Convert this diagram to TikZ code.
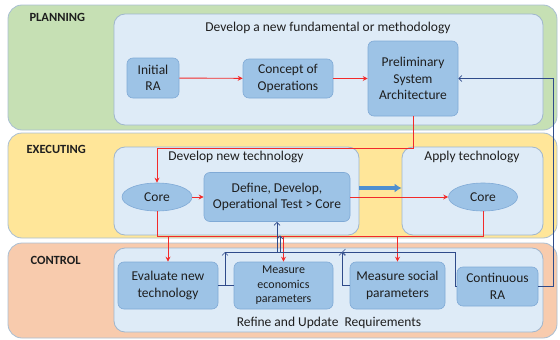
\documentclass[tikz,border=0pt]{standalone}
\usepackage{fontspec}
\setmainfont{Carlito}
\usepackage{tikz}
\usetikzlibrary{shapes.geometric,arrows.meta}

\definecolor{bgreen}{HTML}{C6E0B4}
\definecolor{byellow}{HTML}{FFE699}
\definecolor{borange}{HTML}{F8CBAD}
\definecolor{bline}{HTML}{A9BFD3}
\definecolor{pfill}{HTML}{DEEBF7}
\definecolor{pline}{HTML}{9FB6CE}
\definecolor{bfill}{HTML}{9DC3E6}
\definecolor{bline2}{HTML}{80AAD6}
\definecolor{lred}{HTML}{F22A2A}
\definecolor{navy}{HTML}{2F4B8A}
\definecolor{thk}{HTML}{4F8FCF}
\definecolor{txt}{HTML}{1E1E1E}

\begin{document}
\begin{tikzpicture}[x=1pt,y=-1pt,
	band/.style={draw=bline,line width=0.8pt,rounded corners=14pt},
	panel/.style={draw=pline,fill=pfill,line width=0.8pt,rounded corners=11pt},
	box/.style={draw=bline2,fill=bfill,line width=0.6pt,rounded corners=6pt,align=center,inner sep=1pt,text=txt,font=\fontsize{13.5}{16.5}\selectfont},
	corebox/.style={ellipse,draw=bline2,fill=bfill,line width=0.6pt,inner sep=0pt,text=txt,font=\fontsize{13.5}{16.5}\selectfont},
	head/.style={anchor=west,text=txt,font=\fontsize{12.5}{15}\selectfont\bfseries},
	title/.style={text=txt,font=\fontsize{13.5}{16.5}\selectfont},
	redar/.style={-{Stealth[length=5pt,width=5pt]},draw=lred,line width=0.9pt},
	redln/.style={draw=lred,line width=0.9pt},
	bluar/.style={-{Straight Barb[length=3pt,width=6pt]},draw=navy,line width=0.7pt},
	bluln/.style={draw=navy,line width=0.7pt}]
	\useasboundingbox (0,0) rectangle (560,340);

	% phases
	\filldraw[band,fill=bgreen] (8,5) rectangle (557,130);
	\filldraw[band,fill=byellow] (8,133) rectangle (557,238);
	\filldraw[band,fill=borange] (8,243) rectangle (557,338);
	\node[head] (lplan) at (26,17) {PLANNING};
	\node[head] (lexec) at (23,149) {EXECUTING};
	\node[head] (lctrl) at (27,260) {CONTROL};

	% panels
	\node[panel,minimum width=429pt,minimum height=111pt] (planPanel) at (328.5,69.5) {};
	\node[panel,minimum width=245pt,minimum height=88pt] (devPanel) at (236.5,191) {};
	\node[panel,minimum width=141pt,minimum height=88pt] (applyPanel) at (472.5,191) {};
	\node[panel,minimum width=429pt,minimum height=84pt] (ctrlPanel) at (328.5,290) {};
	\node[title] (tplan) at (328,28) {Develop a new fundamental or methodology};
	\node[title] (tdev) at (236,157) {Develop new technology};
	\node[title] (tapply) at (472,157) {Apply technology};
	\node[title] (tctrl) at (329,323) {Refine and Update~~Requirements};

	% boxes
	\node[box,minimum width=52pt,minimum height=40pt] (initRA) at (153,78) {Initial\\RA};
	\node[box,minimum width=90pt,minimum height=39pt] (conops) at (288,78.5) {Concept of\\Operations};
	\node[box,minimum width=90pt,minimum height=75pt] (prelim) at (413,78.5) {Preliminary\\System\\Architecture};
	\node[corebox,minimum width=70pt,minimum height=28pt] (coreL) at (157,197) {Core};
	\node[box,minimum width=146pt,minimum height=49pt] (define) at (277,197) {Define, Develop,\\Operational Test > Core};
	\node[corebox,minimum width=69pt,minimum height=28pt] (coreR) at (483,197) {Core};
	\node[box,minimum width=100pt,minimum height=47pt] (evalT) at (168,285.5) {Evaluate new\\technology};
	\node[box,minimum width=99pt,minimum height=47pt,font=\fontsize{12}{14.5}\selectfont] (mecon) at (283.5,285.5) {Measure\\economics\\parameters};
	\node[box,minimum width=95pt,minimum height=47pt] (msoc) at (397.5,285.5) {Measure social\\parameters};
	\node[box,minimum width=81pt,minimum height=39pt] (contRA) at (497.5,286.5) {Continuous\\RA};

	% red flow
	\coordinate (rbus) at (0,236);
	\draw[redar] (initRA) -- (conops);
	\draw[redar] (conops) -- (prelim);
	\draw[redar] (prelim.south) -- ++(0,32) -| (coreL.north);
	\draw[redar] (coreL) -- (define);
	\draw[redar] (define) -- (coreR);
	\draw[redln] (coreL.south) |- (rbus -| coreR.south) -- (coreR.south);
	\draw[redar] (evalT.north |- rbus) -- (evalT.north);
	\draw[redar] (mecon.north |- rbus) -- (mecon.north);
	\draw[redar] (msoc.north |- rbus) -- (msoc.north);

	% transfer to application
	\coordinate (tbus) at (0,188);
	\draw[-{Latex[length=7pt,width=9pt]},draw=thk,line width=3.5pt] (devPanel.east |- tbus) -- (applyPanel.west |- tbus);

	% feedback
	\coordinate (bx1) at (225,252);
	\coordinate (bx3) at (342,252);
	\draw[bluln] (evalT.east) -- (mecon.west);
	\draw[bluar] (evalT.east) -| (bx1);
	\draw[bluln] (bx1) -- (bx3);
	\draw[bluar] (define.south |- bx1) -- (define.south);
	\draw[bluar] ([xshift=3pt]define.south |- bx1) -- ([xshift=3pt]define.south |- devPanel.south);
	\draw[bluar] (msoc.west) -| (bx3);
	\draw[bluar] (contRA.west) -- ++(-1.5,0) |- (bx3);
	\draw[bluar] (contRA.east) -- ++(15,0) |- (prelim.east);
\end{tikzpicture}
\end{document}
